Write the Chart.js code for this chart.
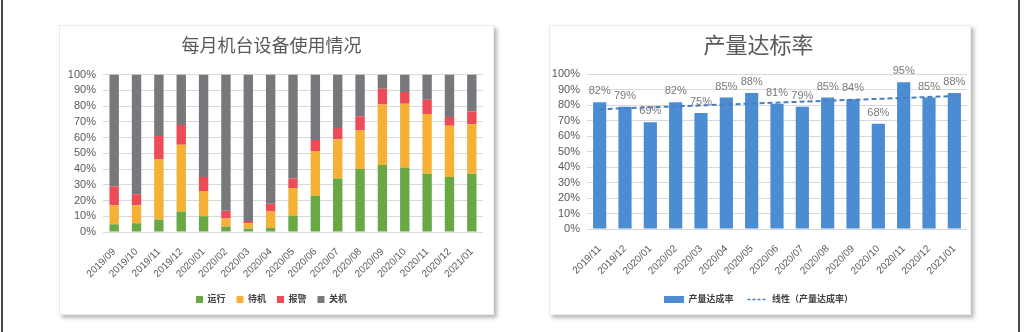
<!DOCTYPE html>
<html>
<head>
<meta charset="utf-8">
<script src="https://cdn.jsdelivr.net/npm/chart.js@4.4.1/dist/chart.umd.min.js"></script>
<style>
    html, body { margin: 0; padding: 0; background: #fff; }
    body { width: 1024px; height: 332px; position: relative; overflow: hidden; }
    .borde { position: absolute; top: 0; width: 2px; height: 332px; background: #4a4a4a; }
    .panel { position: absolute; top: 25px; height: 288px; background: #fff;
             border: 1px solid #ececec; box-shadow: 3px 3px 4px rgba(0,0,0,0.28); }
    .panel canvas { display: block; }
</style>
</head>
<body>
<div class="borde" style="left:1px"></div>
<div class="borde" style="left:1018px"></div>
<div class="panel" style="left:59px; width:433px;"><canvas id="graficaMaquinas" width="433" height="288"></canvas></div>
<div class="panel" style="left:549px; width:420px;"><canvas id="graficaProduccion" width="420" height="288"></canvas></div>

<script>
// 每月机台设备使用情况 (stacked %, bottom -> top)
const meses = ['2019/09','2019/10','2019/11','2019/12','2020/01','2020/02','2020/03','2020/04','2020/05',
               '2020/06','2020/07','2020/08','2020/09','2020/10','2020/11','2020/12','2021/01'];
const yunxing = [5, 5.5, 8, 13, 10, 3.5, 2, 2.5, 10.5, 23, 34, 40, 42.5, 41, 37, 35, 37];
const daiji   = [12, 11.5, 38, 42.5, 16, 5, 3.5, 10.5, 17.5, 28.5, 25, 24.5, 38.5, 40.5, 38, 32.5, 31.5];
const baojing = [12, 7, 15, 12.5, 9, 5, 1.5, 5, 6, 7, 7, 9, 10, 7.5, 9, 5.5, 8];
const guanji  = [71, 76, 39, 32, 65, 86.5, 93, 82, 66, 41.5, 34, 26.5, 9, 11, 16, 27, 23.5];

// 产量达标率
const mesesProd = ['2019/11','2019/12','2020/01','2020/02','2020/03','2020/04','2020/05','2020/06',
                   '2020/07','2020/08','2020/09','2020/10','2020/11','2020/12','2021/01'];
const dacheng = [82, 79, 69, 82, 75, 85, 88, 81, 79, 85, 84, 68, 95, 85, 88];
// trend line ends
const tendencia = [{ x: '2019/11', y: 77.5 }, { x: '2021/01', y: 86 }];

const FUENTE = "'Liberation Sans', 'Noto Sans CJK SC', sans-serif";
const GRIS = '#595959';

document.addEventListener('DOMContentLoaded', () => {
    construirMaquinas();
    construirProduccion();
});

function ejeY(ancho) {
    return {
        stacked: true, min: 0, max: 100,
        ticks: { stepSize: 10, autoSkip: false, padding: 7, color: GRIS, font: { family: FUENTE, size: 11 }, callback: v => v + '%' },
        grid: { color: '#d9d9d9', drawTicks: false },
        border: { display: false },
        afterFit: s => { s.width = ancho; }
    };
}

function ejeX(alto) {
    return {
        stacked: true,
        grid: { display: false },
        border: { display: false },
        ticks: { minRotation: 45, maxRotation: 45, autoSkip: false, padding: 6, color: GRIS, font: { family: FUENTE, size: 10 } },
        afterFit: s => { s.height = alto; }
    };
}

function construirMaquinas() {
    const ctx = document.getElementById('graficaMaquinas').getContext('2d');
    const serie = (label, data, color) => ({ label, data, backgroundColor: color, barPercentage: 0.42, categoryPercentage: 1 });
    new Chart(ctx, {
        type: 'bar',
        data: {
            labels: meses,
            datasets: [
                serie('运行', yunxing, '#6aa845'),
                serie('待机', daiji, '#f5b135'),
                serie('报警', baojing, '#ee4b58'),
                serie('关机', guanji, '#77787b')
            ]
        },
        options: {
            responsive: false, animation: false,
            layout: { padding: { left: 0, right: 10, top: 0, bottom: 0 } },
            scales: { x: ejeX(52), y: ejeY(43) },
            plugins: {
                title: { display: true, text: '每月机台设备使用情况', color: GRIS,
                         font: { family: FUENTE, size: 18, weight: 'normal' }, padding: { top: 10, bottom: 17 } },
                legend: { position: 'bottom',
                          labels: { boxWidth: 7, boxHeight: 7, padding: 11, color: '#404040',
                                    font: { family: FUENTE, size: 9, weight: 'bold' } } },
                tooltip: { enabled: false }
            }
        }
    });
}

// data labels above the bars
const etiquetasBarras = {
    id: 'etiquetasBarras',
    afterDatasetsDraw(chart) {
        const meta = chart.getDatasetMeta(0);
        const ctx = chart.ctx;
        ctx.save();
        ctx.font = '11px ' + FUENTE;
        ctx.fillStyle = '#7a7a7a';
        ctx.textAlign = 'center';
        ctx.textBaseline = 'middle';
        meta.data.forEach((bar, i) => {
            ctx.fillText(chart.data.datasets[0].data[i] + '%', bar.x, bar.y - 11);
        });
        ctx.restore();
    }
};

function construirProduccion() {
    const ctx = document.getElementById('graficaProduccion').getContext('2d');
    new Chart(ctx, {
        type: 'bar',
        data: {
            labels: mesesProd,
            datasets: [
                { label: '产量达成率', data: dacheng, backgroundColor: '#4b8cd2', barPercentage: 0.52, categoryPercentage: 1, order: 2 },
                { type: 'line', label: '线性（产量达成率）', data: tendencia, borderColor: '#4a7fbf', borderWidth: 2,
                  borderDash: [5, 3], pointRadius: 0, fill: false, order: 1 }
            ]
        },
        options: {
            responsive: false, animation: false,
            layout: { padding: { left: 0, right: 3, top: 0, bottom: 0 } },
            scales: { x: ejeX(52), y: ejeY(37) },
            plugins: {
                title: { display: true, text: '产量达标率', color: GRIS,
                         font: { family: FUENTE, size: 22, weight: 'normal' }, padding: { top: 8, bottom: 14 } },
                legend: { position: 'bottom',
                          labels: { usePointStyle: true, pointStyleWidth: 20, boxWidth: 20, boxHeight: 7, padding: 14,
                                    color: '#404040', font: { family: FUENTE, size: 9, weight: 'bold' },
                                    generateLabels: chart => {
                                        const items = Chart.defaults.plugins.legend.labels.generateLabels(chart);
                                        items.sort((a, b) => a.datasetIndex - b.datasetIndex);
                                        items[0].pointStyle = 'rect';
                                        items[0].fillStyle = '#4b8cd2';
                                        items[0].lineWidth = 0;
                                        items[1].pointStyle = 'line';
                                        items[1].lineDash = [3, 2];
                                        items[1].lineWidth = 1.5;
                                        return items;
                                    } } },
                tooltip: { enabled: false }
            }
        },
        plugins: [etiquetasBarras]
    });
}
</script>
</body>
</html>
